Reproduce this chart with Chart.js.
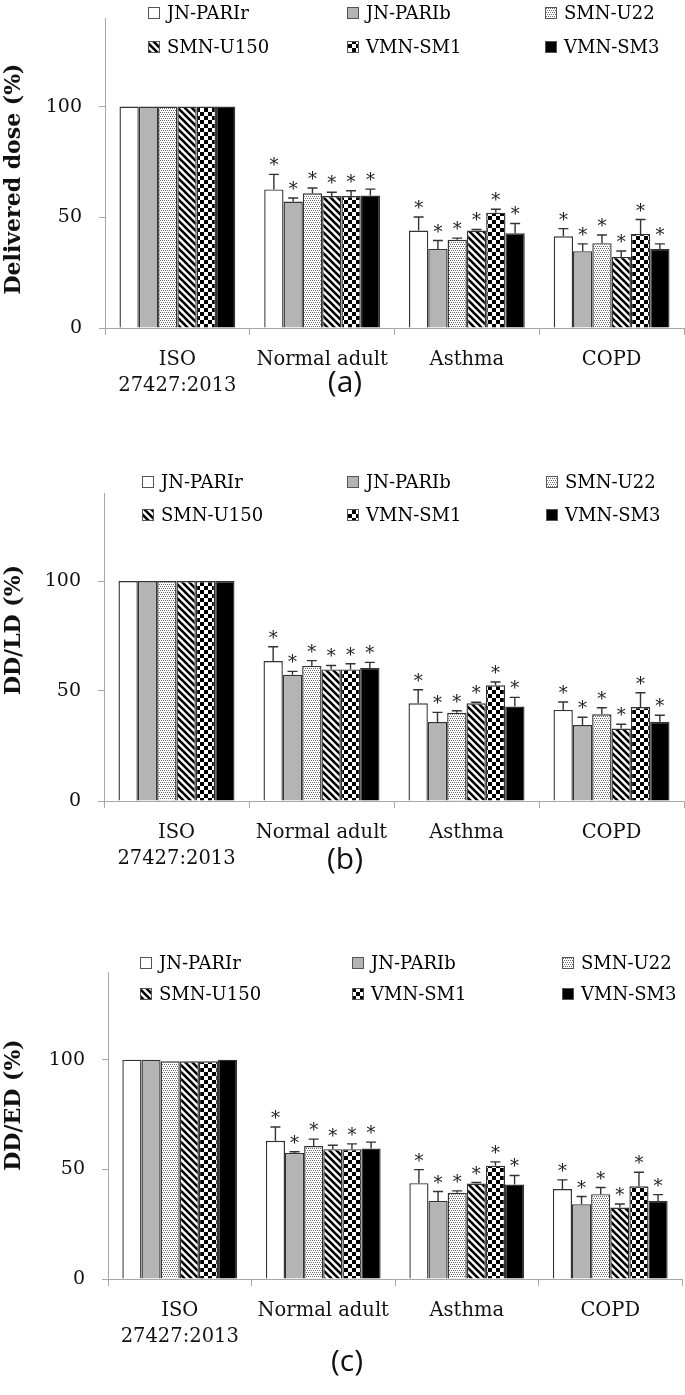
<!DOCTYPE html>
<html><head><meta charset="utf-8">
<script src="https://cdn.jsdelivr.net/npm/chart.js@4/dist/chart.umd.min.js"></script>
<style>
html,body{margin:0;padding:0;background:#fff;width:685px;height:1395px;overflow:hidden;}
.p{position:absolute;left:0;width:685px;}
canvas{display:block;}
</style></head><body>
<div class="p" style="top:0px"><canvas id="ca" width="685" height="470"></canvas></div>
<div class="p" style="top:470px"><canvas id="cb" width="685" height="470"></canvas></div>
<div class="p" style="top:940px"><canvas id="cc" width="685" height="455"></canvas></div>
<script>
// ---------- data ----------
const categories = [["ISO", "27427:2013"], "Normal adult", "Asthma", "COPD"];
const seriesNames = ["JN-PARIr", "JN-PARIb", "SMN-U22", "SMN-U150", "VMN-SM1", "VMN-SM3"];
const yTickValues = [0, 50, 100];
const significant = [false, true, true, true];

// (a) Delivered dose (%)
const ddJNPARIr  = [100, 62.6, 44.0, 41.4];
const ddJNPARIb  = [100, 57.1, 35.7, 34.7];
const ddSMNU22   = [100, 60.8, 39.8, 38.3];
const ddSMNU150  = [100, 59.6, 44.0, 32.1];
const ddVMNSM1   = [100, 59.6, 52.1, 42.5];
const ddVMNSM3   = [100, 59.8, 42.8, 35.7];
const ddErrJNPARIr = [0, 6.8, 6.1, 3.5];
const ddErrJNPARIb = [0, 1.6, 3.8, 3.3];
const ddErrSMNU22  = [0, 2.4, 0.8, 3.7];
const ddErrSMNU150 = [0, 1.7, 0.5, 2.7];
const ddErrVMNSM1  = [0, 2.4, 1.5, 6.5];
const ddErrVMNSM3  = [0, 2.9, 4.4, 2.3];

// (b) DD/LD (%)
const ldJNPARIr  = [100, 63.6, 44.4, 41.4];
const ldJNPARIb  = [100, 57.4, 35.9, 34.5];
const ldSMNU22   = [100, 61.4, 40.1, 39.4];
const ldSMNU150  = [100, 59.8, 44.4, 32.9];
const ldVMNSM1   = [100, 59.8, 52.6, 42.7];
const ldVMNSM3   = [100, 60.5, 42.9, 36.0];
const ldErrJNPARIr = [0, 6.5, 6.2, 3.6];
const ldErrJNPARIb = [0, 1.5, 4.4, 3.6];
const ldErrSMNU22  = [0, 2.4, 0.9, 3.0];
const ldErrSMNU150 = [0, 1.8, 0.5, 2.0];
const ldErrVMNSM1  = [0, 2.6, 1.5, 6.5];
const ldErrVMNSM3  = [0, 2.5, 4.2, 3.0];

// (c) DD/ED (%)
const edJNPARIr  = [100, 63.0, 43.7, 41.0];
const edJNPARIb  = [100, 57.5, 35.6, 34.1];
const edSMNU22   = [99.3, 60.6, 39.3, 38.7];
const edSMNU150  = [99.3, 59.2, 43.5, 32.6];
const edVMNSM1   = [99.3, 59.2, 51.7, 42.3];
const edVMNSM3   = [100, 59.5, 43.1, 35.6];
const edErrJNPARIr = [0, 6.3, 6.2, 4.2];
const edErrJNPARIb = [0, 0.5, 4.3, 3.5];
const edErrSMNU22  = [0, 3.2, 0.9, 3.0];
const edErrSMNU150 = [0, 1.8, 0.5, 1.6];
const edErrVMNSM1  = [0, 2.4, 1.7, 6.4];
const edErrVMNSM3  = [0, 2.9, 4.1, 2.9];

// ---------- patterns ----------
function tile(w, h, draw) {
  const c = document.createElement('canvas'); c.width = w; c.height = h;
  const g = c.getContext('2d'); g.fillStyle = '#fff'; g.fillRect(0, 0, w, h); draw(g);
  return document.createElement('canvas').getContext('2d').createPattern(c, 'repeat');
}
const fillWhite = '#ffffff';
const fillGray = '#b4b4b4';
const fillDots = tile(4, 4, g => {
  g.fillStyle = '#6a6a6a';
  g.fillRect(0, 0, 1, 1); g.fillRect(2, 0, 1, 1); g.fillRect(1, 2, 1, 1); g.fillRect(3, 2, 1, 1);
});
const fillDiag = tile(7, 7, g => {
  g.strokeStyle = '#000'; g.lineWidth = 2.6;
  for (const x0 of [-7, 0, 7]) { g.beginPath(); g.moveTo(x0 - 1, -1); g.lineTo(x0 + 8, 8); g.stroke(); }
});
const fillCheck = tile(8, 8, g => {
  g.fillStyle = '#000'; g.fillRect(0, 0, 4, 4); g.fillRect(4, 4, 4, 4);
});
const fillBlack = '#000000';
const seriesFills = [fillWhite, fillGray, fillDots, fillDiag, fillCheck, fillBlack];

// ---------- overlay plugin: error bars, stars, legend, titles ----------
const overlay = {
  id: 'overlay',
  afterDatasetsDraw(chart, args, o) {
    const ctx = chart.ctx, ys = chart.scales.y;
    ctx.save();
    chart.data.datasets.forEach((ds, i) => {
      const meta = chart.getDatasetMeta(i);
      meta.data.forEach((bar, j) => {
        const v = ds.data[j], e = o.errors[i][j];
        const yb = ys.getPixelForValue(v), yt = ys.getPixelForValue(v + e);
        if (e > 0) {
          ctx.strokeStyle = '#333'; ctx.lineWidth = 1.4;
          ctx.beginPath();
          ctx.moveTo(bar.x, yb); ctx.lineTo(bar.x, yt);
          ctx.moveTo(bar.x - 5, yt); ctx.lineTo(bar.x + 5, yt);
          ctx.stroke();
        }
        if (significant[j]) {
          ctx.fillStyle = '#222'; ctx.font = '18px "DejaVu Serif"';
          ctx.textAlign = 'center'; ctx.textBaseline = 'alphabetic';
          ctx.fillText('*', bar.x, yt - 3);
        }
      });
    });
    // legend
    ctx.font = '18px "DejaVu Serif"'; ctx.textBaseline = 'middle'; ctx.textAlign = 'left';
    seriesNames.forEach((name, k) => {
      const x = o.legendCols[k % 3], y = o.legendRows[Math.floor(k / 3)];
      ctx.fillStyle = seriesFills[k];
      ctx.fillRect(x, y - 6, 12, 12);
      ctx.strokeStyle = '#555'; ctx.lineWidth = 1;
      ctx.strokeRect(x + 0.5, y - 5.5, 11, 11);
      ctx.fillStyle = '#000';
      ctx.fillText(name, x + 19, y + 1);
    });
    // y-axis title
    ctx.save();
    ctx.translate(o.yTitleX, o.yTitleY); ctx.rotate(-Math.PI / 2);
    ctx.font = 'bold 22px "DejaVu Serif"'; ctx.textAlign = 'center'; ctx.textBaseline = 'middle';
    ctx.fillStyle = '#111';
    ctx.fillText(o.yTitle, 0, 0);
    ctx.restore();
    // panel letter
    ctx.font = '30px "Open Sans"'; ctx.textAlign = 'center'; ctx.textBaseline = 'middle';
    ctx.fillStyle = '#111';
    ctx.fillText(o.letter, o.letterX, o.letterY);
    ctx.restore();
  }
};

function makeChart(id, cfg) {
  const H = document.getElementById(id).height;
  const datasets = seriesNames.map((name, i) => ({
    label: name,
    data: cfg.values[i],
    backgroundColor: seriesFills[i],
    borderColor: '#333333',
    borderWidth: 1.4,
    borderSkipped: 'start',
    barPercentage: 1.0,
    categoryPercentage: 0.8
  }));
  return new Chart(document.getElementById(id), {
    type: 'bar',
    data: { labels: categories, datasets },
    plugins: [overlay],
    options: {
      responsive: false, animation: false, devicePixelRatio: 1,
      layout: { padding: { top: cfg.top, left: 0, right: 685 - cfg.right, bottom: 0 } },
      plugins: {
        legend: { display: false }, tooltip: { enabled: false },
        overlay: { errors: cfg.errors, legendCols: cfg.legendCols, legendRows: cfg.legendRows,
                   letter: cfg.letter, letterX: cfg.letterX, letterY: cfg.letterY,
                   yTitle: cfg.yTitle, yTitleX: 14, yTitleY: cfg.yTitleY }
      },
      scales: {
        x: {
          offset: true,
          border: { display: true, color: '#a8a8a8', width: 1 },
          grid: { display: true, offset: true, drawOnChartArea: false, drawTicks: true, tickLength: 7, color: '#a8a8a8' },
          ticks: { color: '#111', padding: 11, font: { family: 'DejaVu Serif', size: 19.5, lineHeight: 1.38 }, maxRotation: 0, autoSkip: false },
          afterFit: s => { s.height = H - cfg.bottom; }
        },
        y: {
          min: 0, max: 140,
          border: { display: true, color: '#a8a8a8', width: 1 },
          grid: { display: true, drawOnChartArea: false, drawTicks: true, tickLength: 6, color: '#a8a8a8' },
          afterBuildTicks: s => { s.ticks = yTickValues.map(v => ({ value: v })); },
          ticks: { color: '#111', padding: 17, font: { family: 'DejaVu Serif', size: 19 } },
          title: { display: false, text: cfg.yTitle },
          afterFit: s => { s.width = cfg.left; s.paddingTop = 0; s.paddingBottom = 0; }
        }
      }
    }
  });
}

makeChart('ca', {
  values: [ddJNPARIr, ddJNPARIb, ddSMNU22, ddSMNU150, ddVMNSM1, ddVMNSM3],
  errors: [ddErrJNPARIr, ddErrJNPARIb, ddErrSMNU22, ddErrSMNU150, ddErrVMNSM1, ddErrVMNSM3],
  yTitle: 'Delivered dose (%)', yTitleY: 179, top: 18, bottom: 328, left: 105, right: 684,
  legendCols: [148, 347, 545], legendRows: [13, 47], letter: '(a)', letterX: 345, letterY: 383
});
makeChart('cb', {
  values: [ldJNPARIr, ldJNPARIb, ldSMNU22, ldSMNU150, ldVMNSM1, ldVMNSM3],
  errors: [ldErrJNPARIr, ldErrJNPARIb, ldErrSMNU22, ldErrSMNU150, ldErrVMNSM1, ldErrVMNSM3],
  yTitle: 'DD/LD (%)', yTitleY: 160, top: 23, bottom: 331, left: 104, right: 684,
  legendCols: [142, 347, 546], legendRows: [12, 45], letter: '(b)', letterX: 345, letterY: 390
});
makeChart('cc', {
  values: [edJNPARIr, edJNPARIb, edSMNU22, edSMNU150, edVMNSM1, edVMNSM3],
  errors: [edErrJNPARIr, edErrJNPARIb, edErrSMNU22, edErrSMNU150, edErrVMNSM1, edErrVMNSM3],
  yTitle: 'DD/ED (%)', yTitleY: 165, top: 32, bottom: 339, left: 108, right: 682,
  legendCols: [140, 352, 562], legendRows: [23, 54], letter: '(c)', letterX: 347, letterY: 422
});
</script>
</body></html>
